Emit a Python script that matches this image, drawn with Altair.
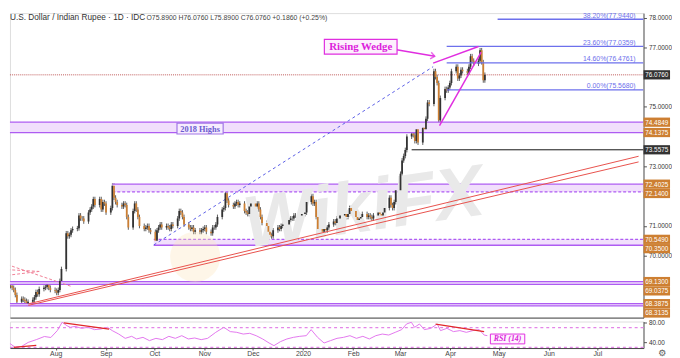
import altair as alt
import pandas as pd
import numpy as np

# ---------------- data ----------------
TITLE = "U.S. Dollar / Indian Rupee · 1D · IDC"
OHLC = "O75.8900 H76.0760 L75.8900 C76.0760 +0.1860 (+0.25%)"

first_open = 69.00
close_2019_07 = [68.98, 68.92, 68.85, 68.68, 68.45, 68.55, 68.52, 68.48, 68.40, 68.45, 68.52, 68.60,
                 68.78, 68.70, 68.88, 68.92, 68.95, 69.02, 68.92, 68.85, 68.82, 68.75, 68.85]
close_2019_08 = [69.15, 69.55, 70.75, 70.65, 70.70, 70.85, 70.90, 70.92, 71.35, 71.25, 71.25, 71.15,
                 71.45, 71.55, 71.65, 71.90, 71.70, 71.90, 71.55, 71.80, 71.75, 71.45]
close_2019_09 = [71.60, 72.35, 71.95, 71.80, 71.70, 71.65, 71.75, 71.70, 71.30, 70.95, 71.50, 71.75,
                 71.55, 71.30, 71.00, 70.90, 70.95, 71.00, 70.85, 70.80, 70.50]
close_2019_10 = [70.85, 70.95, 71.05, 70.95, 71.00, 70.95, 70.90, 71.05, 71.00, 71.25, 71.50, 71.45,
                 71.30, 71.05, 70.95, 70.90, 70.95, 70.80, 70.85, 70.80, 70.85, 70.90, 70.95]
close_2019_11 = [70.80, 70.75, 70.95, 70.95, 71.05, 71.30, 71.55, 71.60, 72.10, 71.85, 71.70, 71.65,
                 71.75, 71.80, 71.70, 71.75, 71.50, 71.45, 71.40, 71.65, 71.75]
close_2019_12 = [71.65, 71.75, 71.55, 71.30, 71.10, 71.00, 70.80, 70.70, 70.65, 70.85, 70.95, 70.90,
                 71.00, 71.05, 71.05, 71.20, 71.25, 71.25, 71.35, 71.35, 71.35, 71.40]
close_2020_01 = [71.40, 71.45, 71.80, 72.00, 71.75, 71.80, 71.30, 70.90, 70.80, 70.90, 70.85, 70.95,
                 71.05, 71.15, 71.10, 71.25, 71.25, 71.35, 71.40, 71.30, 71.40, 71.60, 71.50]
close_2020_02 = [71.30, 71.20, 71.25, 71.30, 71.40, 71.30, 71.35, 71.30, 71.25, 71.35, 71.45, 71.40,
                 71.35, 71.45, 71.60, 71.95, 71.70, 71.60, 71.80, 72.20]
close_2020_03 = [72.75, 73.20, 73.35, 73.55, 74.00, 74.10, 74.05, 73.85, 74.25, 73.80, 74.30, 74.25,
                 74.60, 75.15, 75.10, 76.20, 76.00, 75.80, 74.55, 75.30, 75.60, 75.55]
close_2020_04 = [75.65, 75.80, 76.20, 76.35, 75.95, 76.05, 76.25, 76.20, 76.15, 76.35, 76.70, 76.55,
                 76.45, 76.55, 76.90, 76.50, 75.89, 76.076]

rsi_dates = ["2019-07-01", "2019-07-04", "2019-07-07", "2019-07-11", "2019-07-15", "2019-07-20", "2019-07-25", "2019-07-29",
             "2019-08-02", "2019-08-05", "2019-08-08", "2019-08-10", "2019-08-13", "2019-08-17", "2019-08-21", "2019-08-25", "2019-08-29",
             "2019-09-02", "2019-09-05", "2019-09-09", "2019-09-13", "2019-09-17", "2019-09-20", "2019-09-24", "2019-09-28",
             "2019-10-02", "2019-10-06", "2019-10-10", "2019-10-14", "2019-10-18", "2019-10-22", "2019-10-26", "2019-10-30",
             "2019-11-03", "2019-11-08", "2019-11-13", "2019-11-17", "2019-11-21", "2019-11-25", "2019-11-29",
             "2019-12-03", "2019-12-07", "2019-12-11", "2019-12-14", "2019-12-18", "2019-12-22", "2019-12-26", "2019-12-30",
             "2020-01-03", "2020-01-06", "2020-01-10", "2020-01-14", "2020-01-18", "2020-01-22", "2020-01-26", "2020-01-30",
             "2020-02-03", "2020-02-07", "2020-02-11", "2020-02-15", "2020-02-19", "2020-02-23", "2020-02-27",
             "2020-03-02", "2020-03-05", "2020-03-08", "2020-03-10", "2020-03-13", "2020-03-16", "2020-03-20", "2020-03-24", "2020-03-26", "2020-03-30",
             "2020-04-03", "2020-04-07", "2020-04-11", "2020-04-15", "2020-04-19", "2020-04-22", "2020-04-24"]
rsi_values = [39, 37, 30, 32, 40, 45.6, 52, 50,
              64, 81, 74, 70.7, 72.7, 68.6, 70.7, 66, 67.3,
              70.7, 64, 57, 48.3, 52.4, 47, 50.3, 43.6,
              48.3, 45.6, 52.4, 48.3, 53.7, 47, 49, 45.6,
              48.3, 60.5, 70.7, 62, 60.5, 57, 58.5,
              53.7, 47, 38.8, 33.4, 41.5, 47, 50.3, 52.4,
              53.7, 66, 50.3, 38.8, 43.6, 48.3, 50.3, 53.7,
              48.3, 52.4, 47, 53.7, 57, 55, 60.5,
              66, 77.5, 81, 70.7, 77.5, 66, 68.6, 77.5, 64, 68.6,
              62, 64, 60.5, 64, 66, 55, 53.7]
rsi_levels = [70, 30]

# horizontal zones (top, bottom, start date, dash style of the top / bottom borders)
zone_top = [74.4849, 72.4025, 70.5490, 69.1300, 68.3875]
zone_bot = [74.1375, 72.1400, 70.3500, 69.0375, 68.3135]
zone_start = ["2019-06-25", "2019-09-03", "2019-09-29", "2019-06-25", "2019-06-25"]
zone_top_style = ["solid", "solid", "dash", "solid", "solid"]
zone_bot_style = ["solid", "dash", "solid", "solid", "solid"]

# Fibonacci levels
fib_pct = ["0.00%", "14.60%", "23.60%", "38.20%"]
fib_price = [75.5680, 76.4761, 77.0359, 77.9440]
fib_start = ["2020-03-31", "2020-03-31", "2020-03-31", "2020-05-02"]

last_price = 76.0760
support_price = 73.5575
support_start = "2020-03-09"

# price-axis tags
tag_price = [76.0760, 74.4849, 74.1375, 73.5575, 72.4025, 72.1400, 70.5490, 70.3500, 69.1300, 69.0375, 68.3875, 68.3135]
tag_kind = ["last", "zone", "zone", "support", "zone", "zone", "zone", "zone", "zone", "zone", "zone", "zone"]

# drawn lines (id, date, price)
trend_id = ["a", "a", "b", "b"]
trend_date = ["2019-07-12T05:00", "2020-07-29T14:00", "2019-07-12T05:00", "2020-07-29T14:00"]
trend_price = [68.38, 73.34, 68.33, 73.15]

fibbase_date = ["2019-09-29", "2020-03-22T12:00"]
fibbase_price = [70.36, 76.35]

wedge_id = ["u", "u", "l", "l"]
wedge_date = ["2020-03-22T12:00", "2020-04-20T00:00", "2020-03-26T12:00", "2020-04-21T16:00"]
wedge_price = [76.47, 77.03, 74.37, 76.84]

arrow_date = ["2020-02-27T14:00", "2020-03-23T12:00"]
arrow_price = [76.93, 76.70]

pink_id = ["p1", "p1", "p2", "p2", "p3", "p3"]
pink_date = ["2019-06-29", "2019-08-08", "2019-06-29", "2019-07-19", "2019-06-29", "2019-07-19"]
pink_price = [69.70, 68.97, 69.53, 69.47, 69.34, 69.47]

rsi_red_id = ["r1", "r1", "r2", "r2", "r3", "r3"]
rsi_red_date = ["2019-07-06", "2019-07-20", "2019-08-06", "2019-09-03", "2020-03-23", "2020-04-22"]
rsi_red_value = [30, 34, 80, 67, 77, 62]

wedge_label = ("Rising Wedge", "2020-02-06T00:00", 77.02)
highs_label = ("2018 Highs", "2019-10-28T02:00", 74.27)
rsi_label = ("RSI (14)", "2020-05-06T12:00", 47)
watermark = ("WikiFX", "2020-02-08T00:00", 71.55)
logo = ("2019-10-25T00:00", 69.96)

# ---------------- layout / style ----------------
W = 645
H_MAIN = 310
H_RSI = 27
P_DOM = [67.919, 78.15]
R_DOM = [28.5, 82.5]
WICK = 0.08
FONT = "Liberation Sans"

ZFILL = "#f1dffc"
ZLINE = "#ae5cf2"
TAGV = "#9b2ff2"
FIB = "#6d70ec"
MAG = "#e02ee0"


def T(s):
    return s if "T" in s else s + "T00:00"


xs = alt.Scale(domain=[alt.DateTime(year=2019, month=7, date=3, hours=17, minutes=30),
                       alt.DateTime(year=2020, month=7, date=29, hours=14)], nice=False)
ys = alt.Scale(domain=P_DOM, nice=False, zero=False)
rs = alt.Scale(domain=R_DOM, nice=False, zero=False)

price_axis = alt.Axis(orient="right", values=[78, 77, 75, 73, 71, 70], format=".4f", labelFontSize=6.5,
                      labelColor="#333", tickSize=3, tickColor="#555", domainColor="#555", labelPadding=2,
                      grid=False, labelFont=FONT, title=None)
sep_axis = alt.Axis(labels=False, ticks=False, domain=True, domainColor="#444", grid=False, title=None)

month_vals = [alt.DateTime(year=2019, month=m, date=1) for m in range(8, 13)] + \
             [alt.DateTime(year=2020, month=m, date=1) for m in range(1, 8)]
time_axis = alt.Axis(values=month_vals, format="%b",
                     labelExpr="month(datum.value) == 0 ? timeFormat(datum.value, '%Y') : datum.label",
                     labelFontSize=7, labelColor="#444", tickSize=2, tickColor="#555", domainColor="#444",
                     labelPadding=0, grid=False, labelFont=FONT, title=None)
rsi_axis = alt.Axis(orient="right", values=[80, 40], format=".2f", labelFontSize=6.5, labelColor="#333",
                    tickSize=3, tickColor="#555", domainColor="#555", labelPadding=2, grid=False,
                    labelFont=FONT, title=None)


def X(f):
    return alt.X(f, scale=xs, axis=sep_axis, title=None)


def Y(f):
    return alt.Y(f, scale=ys, axis=price_axis, title=None)


def RX(f):
    return alt.X(f, scale=xs, axis=time_axis, title=None)


def RY(f):
    return alt.Y(f, scale=rs, axis=rsi_axis, title=None)


# candles
dates = pd.bdate_range("2019-07-01", "2020-04-24")
closes = (close_2019_07 + close_2019_08 + close_2019_09 + close_2019_10 + close_2019_11 + close_2019_12
          + close_2020_01 + close_2020_02 + close_2020_03 + close_2020_04)
opens = [first_open] + closes[:-1]
cdf = pd.DataFrame({"date": [d.strftime("%Y-%m-%dT00:00") for d in dates], "open": opens, "close": closes})
cdf["high"] = cdf[["open", "close"]].max(axis=1) + WICK
cdf["low"] = cdf[["open", "close"]].min(axis=1) - WICK
cdf["dir"] = np.where(cdf["close"] >= cdf["open"], "up", "down")

wicks = alt.Chart(cdf).mark_rule(color="#333", strokeWidth=0.8, clip=True).encode(
    x=X("date:T"), y=Y("low:Q"), y2="high:Q")
bodies = alt.Chart(cdf).mark_bar(size=1.8, clip=True).encode(
    x=X("date:T"), y=Y("open:Q"), y2="close:Q",
    color=alt.Color("dir:N", scale=alt.Scale(domain=["up", "down"], range=["#333333", "#cd7f32"]), legend=None))

# zones
zdf = pd.DataFrame({"start": [T(s) for s in zone_start], "top": zone_top, "bot": zone_bot})
zones = alt.Chart(zdf).mark_rect(color=ZFILL, clip=True).encode(
    x=X("start:T"), x2=alt.value(W), y=Y("top:Q"), y2="bot:Q")
zl = pd.DataFrame({"start": [T(s) for s in zone_start] * 2, "price": zone_top + zone_bot,
                   "style": zone_top_style + zone_bot_style})
dash_scale = alt.Scale(domain=["solid", "dash"], range=[[1, 0], [3, 2]])
zone_lines = alt.Chart(zl).mark_rule(color=ZLINE, strokeWidth=1.3, clip=True).encode(
    x=X("start:T"), x2=alt.value(W), y=Y("price:Q"),
    strokeDash=alt.StrokeDash("style:N", scale=dash_scale, legend=None))

# watermark
wm = alt.Chart(pd.DataFrame({"t": [watermark[0]], "d": [T(watermark[1])], "p": [watermark[2]]})).mark_text(
    fontSize=74, fontWeight="bold", fontStyle="italic", color="#e9e9e9", angle=352, font=FONT).encode(
    x=X("d:T"), y=Y("p:Q"), text="t:N")
logo_m = alt.Chart(pd.DataFrame({"d": [T(logo[0])], "p": [logo[1]]})).mark_point(
    shape="circle", filled=True, size=2600, color="#fbe6bd", opacity=0.35).encode(x=X("d:T"), y=Y("p:Q"))

# last price & support lines
last_line = alt.Chart(pd.DataFrame({"p": [last_price]})).mark_rule(
    color="#c05a5a", strokeDash=[1, 1], strokeWidth=1).encode(x=alt.value(0), x2=alt.value(W), y=Y("p:Q"))
sup_line = alt.Chart(pd.DataFrame({"d": [T(support_start)], "p": [support_price]})).mark_rule(
    color="#111", strokeWidth=1, clip=True).encode(x=X("d:T"), x2=alt.value(W), y=Y("p:Q"))

# trend lines
tdf = pd.DataFrame({"id": trend_id, "d": trend_date, "p": trend_price})
trend = alt.Chart(tdf).mark_line(color="#e8504a", strokeWidth=1, clip=True).encode(
    x=X("d:T"), y=Y("p:Q"), detail="id:N")

pdf = pd.DataFrame({"id": pink_id, "d": [T(s) for s in pink_date], "p": pink_price})
pink = alt.Chart(pdf).mark_line(color="#f07f95", strokeWidth=1, strokeDash=[3, 2], clip=True).encode(
    x=X("d:T"), y=Y("p:Q"), detail="id:N")

fbdf = pd.DataFrame({"d": [T(s) for s in fibbase_date], "p": fibbase_price})
fibbase = alt.Chart(fbdf).mark_line(color="#5a5ee6", strokeWidth=1, strokeDash=[3, 3], clip=True).encode(
    x=X("d:T"), y=Y("p:Q"))

# fib levels
fdf = pd.DataFrame({"d": [T(s) for s in fib_start], "p": fib_price,
                    "lab": [f"{a}({b:.4f})" for a, b in zip(fib_pct, fib_price)]})
fib_lines = alt.Chart(fdf).mark_rule(color=FIB, strokeWidth=1.3, clip=True).encode(
    x=X("d:T"), x2=alt.value(W), y=Y("p:Q"))
fib_text = alt.Chart(fdf).mark_text(align="right", baseline="alphabetic", dy=-1.5, fontSize=7,
                                    color=FIB, font=FONT).encode(
    x=alt.value(W - 8), y=Y("p:Q"), text="lab:N")

# wedge + arrow
wdf = pd.DataFrame({"id": wedge_id, "d": wedge_date, "p": wedge_price})
wedge = alt.Chart(wdf).mark_line(color=MAG, strokeWidth=1.5, clip=True).encode(
    x=X("d:T"), y=Y("p:Q"), detail="id:N")
adf = pd.DataFrame({"d": arrow_date, "p": arrow_price})
arrow = alt.Chart(adf).mark_line(color=MAG, strokeWidth=1.5).encode(x=X("d:T"), y=Y("p:Q"))
arrow_head = alt.Chart(adf.tail(1)).mark_point(
    shape="M-1,-0.8L0,0L-1,0.8", filled=False, strokeWidth=1.5, size=70, angle=10, color=MAG).encode(
    x=X("d:T"), y=Y("p:Q"))


def label_box(lab, w, h, fill, stroke, fs, tcolor, style="normal", weight="bold"):
    df = pd.DataFrame({"t": [lab[0]], "d": [T(lab[1])], "p": [lab[2]]})
    box = alt.Chart(df).mark_rect(fill=fill, stroke=stroke, strokeWidth=1.2,
                                  xOffset=-w / 2, x2Offset=w / 2, yOffset=-h / 2, y2Offset=h / 2).encode(
        x=X("d:T"), x2="d:T", y=Y("p:Q"), y2="p:Q")
    txt = alt.Chart(df).mark_text(font="Liberation Serif", fontSize=fs, fontWeight=weight, fontStyle=style,
                                  color=tcolor, baseline="middle", dy=0.5).encode(
        x=X("d:T"), y=Y("p:Q"), text="t:N")
    return box + txt


wedge_box = label_box(wedge_label, 74, 15, "#fdf0fd", MAG, 11, "#dc22dc")
highs_box = label_box(highs_label, 47, 11, "#f7ecfe", "#a176e6", 8.5, "#6b5bd0")

# price-axis tags with simple collision avoidance
px_per_unit = H_MAIN / (P_DOM[1] - P_DOM[0])
order = np.argsort(tag_price)[::-1]
pos = [0.0] * len(tag_price)
prev_px = -1e9
for i in order:
    px = (P_DOM[1] - tag_price[i]) * px_per_unit
    if px < prev_px + 9.5:
        px = prev_px + 9.5
    prev_px = px
    pos[i] = P_DOM[1] - px / px_per_unit
tag_color = {"last": "#8e1616", "zone": TAGV, "support": "#000000"}
tdf2 = pd.DataFrame({"pos": pos, "lab": [f"{p:.4f}" for p in tag_price], "kind": tag_kind})
tag_scale = alt.Scale(domain=list(tag_color.keys()), range=list(tag_color.values()))
tags = alt.Chart(tdf2).mark_rect(yOffset=-4.7, y2Offset=4.7).encode(
    x=alt.value(W), x2=alt.value(W + 27), y=Y("pos:Q"), y2="pos:Q",
    color=alt.Color("kind:N", scale=tag_scale, legend=None))
tag_text = alt.Chart(tdf2).mark_text(fontSize=6.5, color="white", baseline="middle", align="center",
                                     font=FONT, dy=0.5).encode(
    x=alt.value(W + 13.5), y=Y("pos:Q"), text="lab:N")

title = alt.Chart(pd.DataFrame({"t": [TITLE]})).mark_text(
    align="left", baseline="top", fontSize=8.4, color="#333", font=FONT).encode(
    x=alt.value(0), y=alt.value(0), text="t:N")
ohlc = alt.Chart(pd.DataFrame({"t": [OHLC]})).mark_text(
    align="left", baseline="top", fontSize=7, color="#444", font=FONT, dy=1).encode(
    x=alt.value(139), y=alt.value(0), text="t:N")

main = alt.layer(
    wicks, zones, zone_lines, logo_m, wm, last_line, sup_line, trend, pink, fibbase,
    bodies, fib_lines, fib_text, wedge, arrow, arrow_head, wedge_box, highs_box,
    tags, tag_text, title, ohlc
).properties(width=W, height=H_MAIN)

# ---------------- RSI panel ----------------
rdf = pd.DataFrame({"d": [T(s) for s in rsi_dates], "v": rsi_values})
rsi_line = alt.Chart(rdf).mark_line(color="#e276ee", strokeWidth=1, clip=True).encode(
    x=RX("d:T"), y=RY("v:Q"))
rsi_lv = alt.Chart(pd.DataFrame({"v": rsi_levels})).mark_rule(
    color="#e486e8", strokeDash=[3, 3], strokeWidth=1.2).encode(
    x=alt.value(0), x2=alt.value(W), y=RY("v:Q"))
rrdf = pd.DataFrame({"id": rsi_red_id, "d": [T(s) for s in rsi_red_date], "v": rsi_red_value})
rsi_red = alt.Chart(rrdf).mark_line(color="#e02828", strokeWidth=1.3, clip=True).encode(
    x=RX("d:T"), y=RY("v:Q"), detail="id:N")
rl = pd.DataFrame({"t": [rsi_label[0]], "d": [T(rsi_label[1])], "v": [rsi_label[2]]})
rsi_box = alt.Chart(rl).mark_rect(fill="#fff2ff", stroke=MAG, strokeWidth=1,
                                  xOffset=-17.5, x2Offset=17.5, yOffset=-5, y2Offset=5).encode(
    x=RX("d:T"), x2="d:T", y=RY("v:Q"), y2="v:Q")
rsi_txt = alt.Chart(rl).mark_text(font="Liberation Serif", fontSize=8, fontStyle="italic", fontWeight="bold",
                                  color="#d81fd8", baseline="middle", dy=0.5).encode(
    x=RX("d:T"), y=RY("v:Q"), text="t:N")
gear = alt.Chart(pd.DataFrame({"t": ["\u2699"]})).mark_text(
    font="DejaVu Sans", fontSize=9, color="#555", baseline="middle", align="center").encode(
    x=alt.value(W + 19), y=alt.value(H_RSI + 5.5), text="t:N")

rsi = alt.layer(rsi_line, rsi_lv, rsi_red, rsi_box, rsi_txt, gear).properties(width=W, height=H_RSI)

chart = alt.vconcat(main, rsi, spacing=0).properties(padding=0, background="white").configure_view(
    stroke=None).configure(font=FONT)

chart.save("out.html", embed_options={"renderer": "svg", "actions": False})
